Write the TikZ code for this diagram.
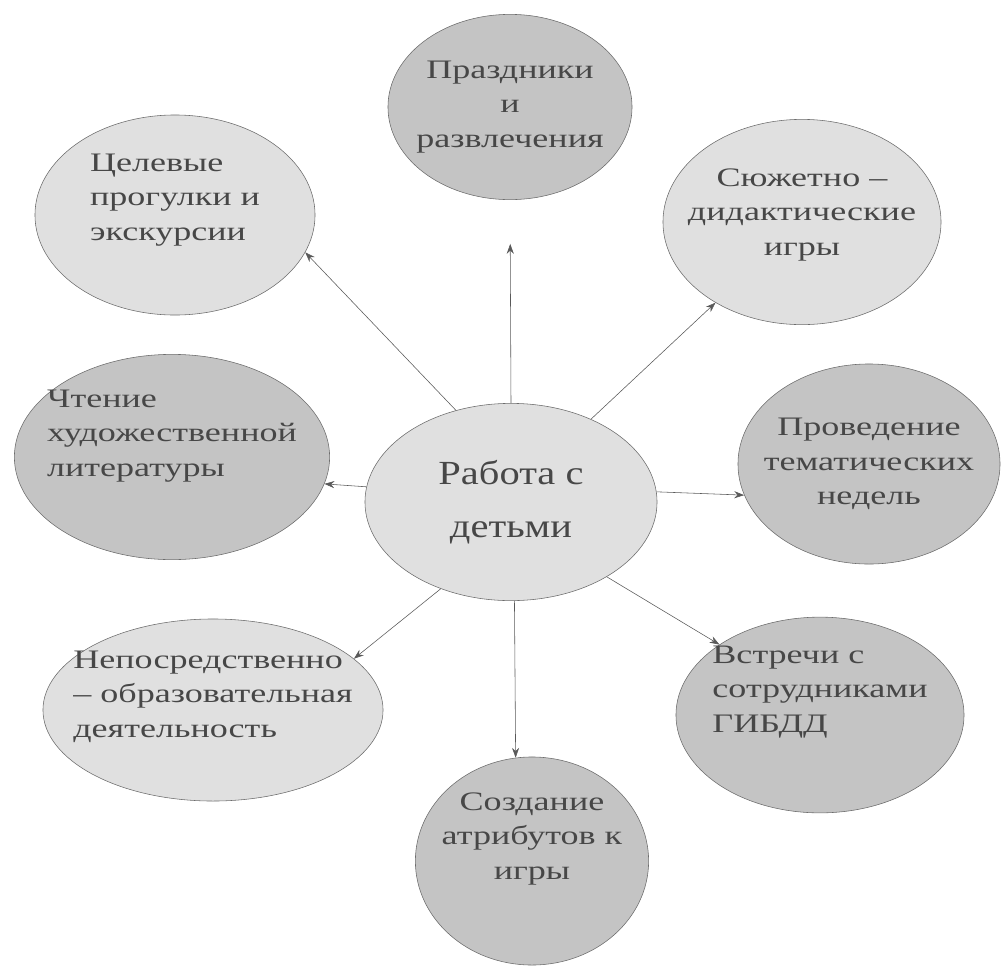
\documentclass[tikz,border=0pt]{standalone}
\usepackage{fontspec}
\setmainfont{Liberation Serif}[FakeStretch=1.2]
\newfontfamily\widefont{Liberation Serif}[FakeStretch=1.35]
\usetikzlibrary{shapes.geometric,arrows.meta}

\begin{document}
\begin{tikzpicture}[x=0.025cm, y=-0.025cm,
	bubble/.style={ellipse, draw=gray!85!black, thin, inner ysep=0pt, inner xsep=-0.6cm, text=black!72, font=\widefont\fontsize{19}{24.5}\selectfont},
	light/.style={bubble, fill=gray!24},
	dark/.style={bubble, fill=gray!46},
	link/.style={draw=gray!70!black, -{Stealth[length=7pt,width=5pt]}}]
	\useasboundingbox (0,0) rectangle (1006,968);

	\node [light, align=center, minimum width=7.3cm, minimum height=4.93cm, font=\fontsize{24}{38}\selectfont] (work) at (511,502) {Работа с\\детьми};

	\node [light, align=left, text depth=0.9cm, minimum width=7.0cm, minimum height=5.0cm] (goal) at (175,215) {Целевые\\прогулки и\\экскурсии};
	\node [dark, align=center, minimum width=6.1cm, minimum height=4.63cm] (fest) at (510,107) {Праздники\\и\\развлечения};
	\node [light, align=center, text depth=0.5cm, minimum width=6.95cm, minimum height=5.13cm] (plot) at (802,222) {Сюжетно –\\дидактические\\игры};
	\node [dark, align=left, text depth=1.2cm, minimum width=7.88cm, minimum height=5.13cm] (read) at (172,457) {Чтение\\художественной\\литературы};
	\node [dark, align=center, minimum width=6.55cm, minimum height=5.0cm] (theme) at (869,464) {Проведение\\тематических\\недель};
	\node [light, align=left, text depth=0.8cm, minimum width=8.5cm, minimum height=4.55cm] (direct) at (213,710) {Непосредственно\\– образовательная\\деятельность};
	\node [dark, align=left, text depth=1.3cm, minimum width=7.2cm, minimum height=4.8cm] (meet) at (820,715) {Встречи с\\сотрудниками\\ГИБДД};
	\node [dark, align=center, text depth=1.25cm, minimum width=5.83cm, minimum height=5.2cm] (create) at (532,861) {Создание\\атрибутов к\\игры};

	\draw [link] (work.121) -- (goal.-16);
	\draw [link, shorten >=1.1cm] (work.90) -- (fest.south);
	\draw [link] (work.46) -- (plot.-137);
	\draw [link] (work.174) -- (read.-10);
	\draw [link] (work.4) -- (theme.-166);
	\draw [link] (work.231) -- (direct.20);
	\draw [link] (work.-38) -- (meet.145);
	\draw [link] (work.-88) -- (create.99);
\end{tikzpicture}
\end{document}
